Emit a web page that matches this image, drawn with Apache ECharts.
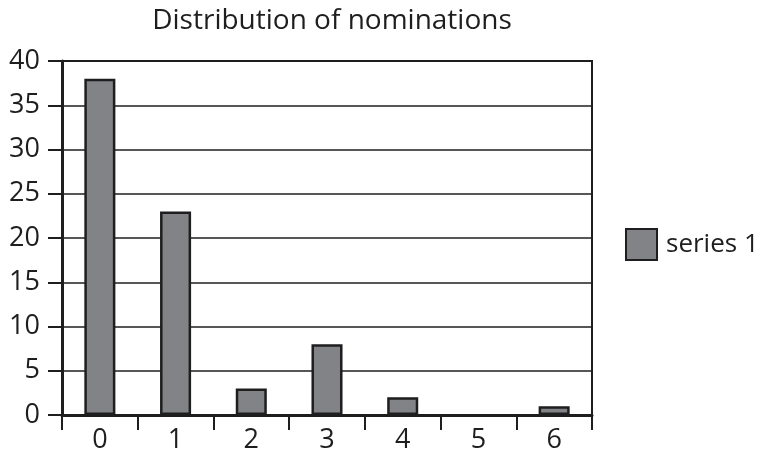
<!DOCTYPE html>
<html>
<head>
<meta charset="utf-8">
<script src="https://cdn.jsdelivr.net/npm/echarts@6/dist/echarts.min.js"></script>
<style>
  html, body { margin: 0; padding: 0; background: #fff; }
  #chart { width: 761px; height: 454px; }
</style>
</head>
<body>
<div id="chart"></div>
<script>
// Number of nominations (x) and how many items received that many (y)
const categories = ['0', '1', '2', '3', '4', '5', '6'];
const series1 = [38, 23, 3, 8, 2, 0, 1];
const yTicks = { min: 0, max: 40, step: 5 };

const FONT = 'Open Sans';
const INK = '#1e1e1e';

const chart = echarts.init(document.getElementById('chart'), null, { renderer: 'canvas' });
chart.setOption({
  animation: false,
  backgroundColor: '#ffffff',
  title: {
    text: 'Distribution of nominations',
    left: 327,
    textAlign: 'center',
    top: 2,
    textStyle: { fontFamily: FONT, fontSize: 28, fontWeight: 'normal', color: INK }
  },
  legend: {
    data: ['series 1'],
    orient: 'vertical',
    left: 620,
    top: 223,
    icon: 'rect',
    itemWidth: 31,
    itemHeight: 31,
    textStyle: { fontFamily: FONT, fontSize: 26, color: INK, padding: [0, 0, 0, 4] }
  },
  grid: {
    left: 62, right: 169, top: 61, bottom: 36,
    show: true,
    borderColor: INK,
    borderWidth: 2,
    containLabel: false
  },
  xAxis: {
    type: 'category',
    data: categories,
    boundaryGap: true,
    axisLine: { lineStyle: { color: INK, width: 3 } },
    axisTick: { show: true, alignWithLabel: false, length: 15, lineStyle: { color: INK, width: 2 } },
    axisLabel: { fontFamily: FONT, fontSize: 27, color: INK, margin: 12 }
  },
  yAxis: {
    type: 'value',
    min: yTicks.min,
    max: yTicks.max,
    interval: yTicks.step,
    axisLine: { show: true, lineStyle: { color: INK, width: 3 } },
    axisTick: { show: true, length: 14, lineStyle: { color: INK, width: 2 } },
    splitLine: { show: true, lineStyle: { color: INK, width: 1.5 } },
    axisLabel: { fontFamily: FONT, fontSize: 27, color: INK, margin: 22 }
  },
  series: [{
    name: 'series 1',
    type: 'bar',
    // empty categories get no outline, so nothing is drawn for them
    data: series1.map(v => (v === 0 ? { value: v, itemStyle: { borderWidth: 0 } } : v)),
    barWidth: '41%',
    itemStyle: { color: '#828387', borderColor: INK, borderWidth: 2.5 }
  }]
});
</script>
</body>
</html>
